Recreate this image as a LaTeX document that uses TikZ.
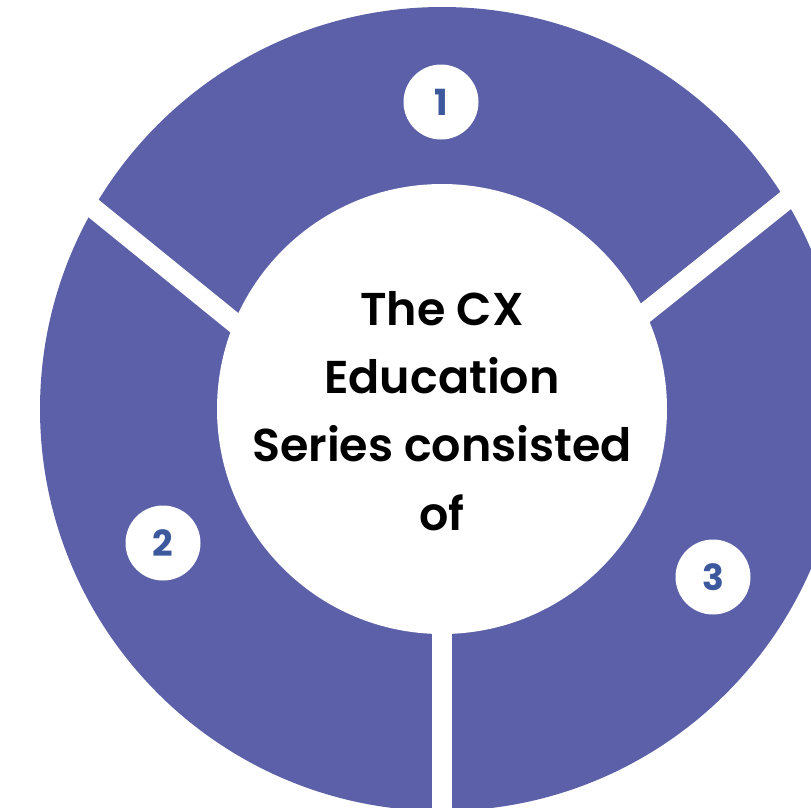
\documentclass[tikz,border=0pt]{standalone}
\usepackage{fontspec}
\setmainfont{Poppins}[BoldFont={Poppins SemiBold}]
\newfontfamily\numfont{Poppins}
\definecolor{ring}{RGB}{91,96,168}
\definecolor{numblue}{RGB}{61,89,158}
\begin{document}
\begin{tikzpicture}[x=1pt,y=-1pt,
  gap/.style={white,line width=20pt},
  badge/.style={circle,fill=white,minimum size=75pt,inner sep=0pt,text=numblue,font=\numfont\bfseries\fontsize{36}{36}\selectfont},
  centertext/.style={anchor=base,font=\bfseries\fontsize{46}{46}\selectfont,text=black,inner sep=0pt}]
\useasboundingbox (0,0) rectangle (811,807);
\clip (0,0) rectangle (811,807);
\fill[ring] (442,409) circle (402pt);
\draw[gap] (300,376) -- (40,165);
\draw[gap] (600,349) -- (840,157);
\draw[gap] (442,600) -- (442,820);
\fill[white] (442,409) circle (225pt);
\node[badge] (n1) at (441,102) {1};
\node[badge] (n2) at (163,543) {2};
\node[badge] (n3) at (713,577) {3};
\node[centertext] (t1) at (442,325) {The CX};
\node[centertext] (t2) at (442,393) {Education};
\node[centertext] (t3) at (442,461) {Series consisted};
\node[centertext] (t4) at (442,530) {of};
\end{tikzpicture}
\end{document}
